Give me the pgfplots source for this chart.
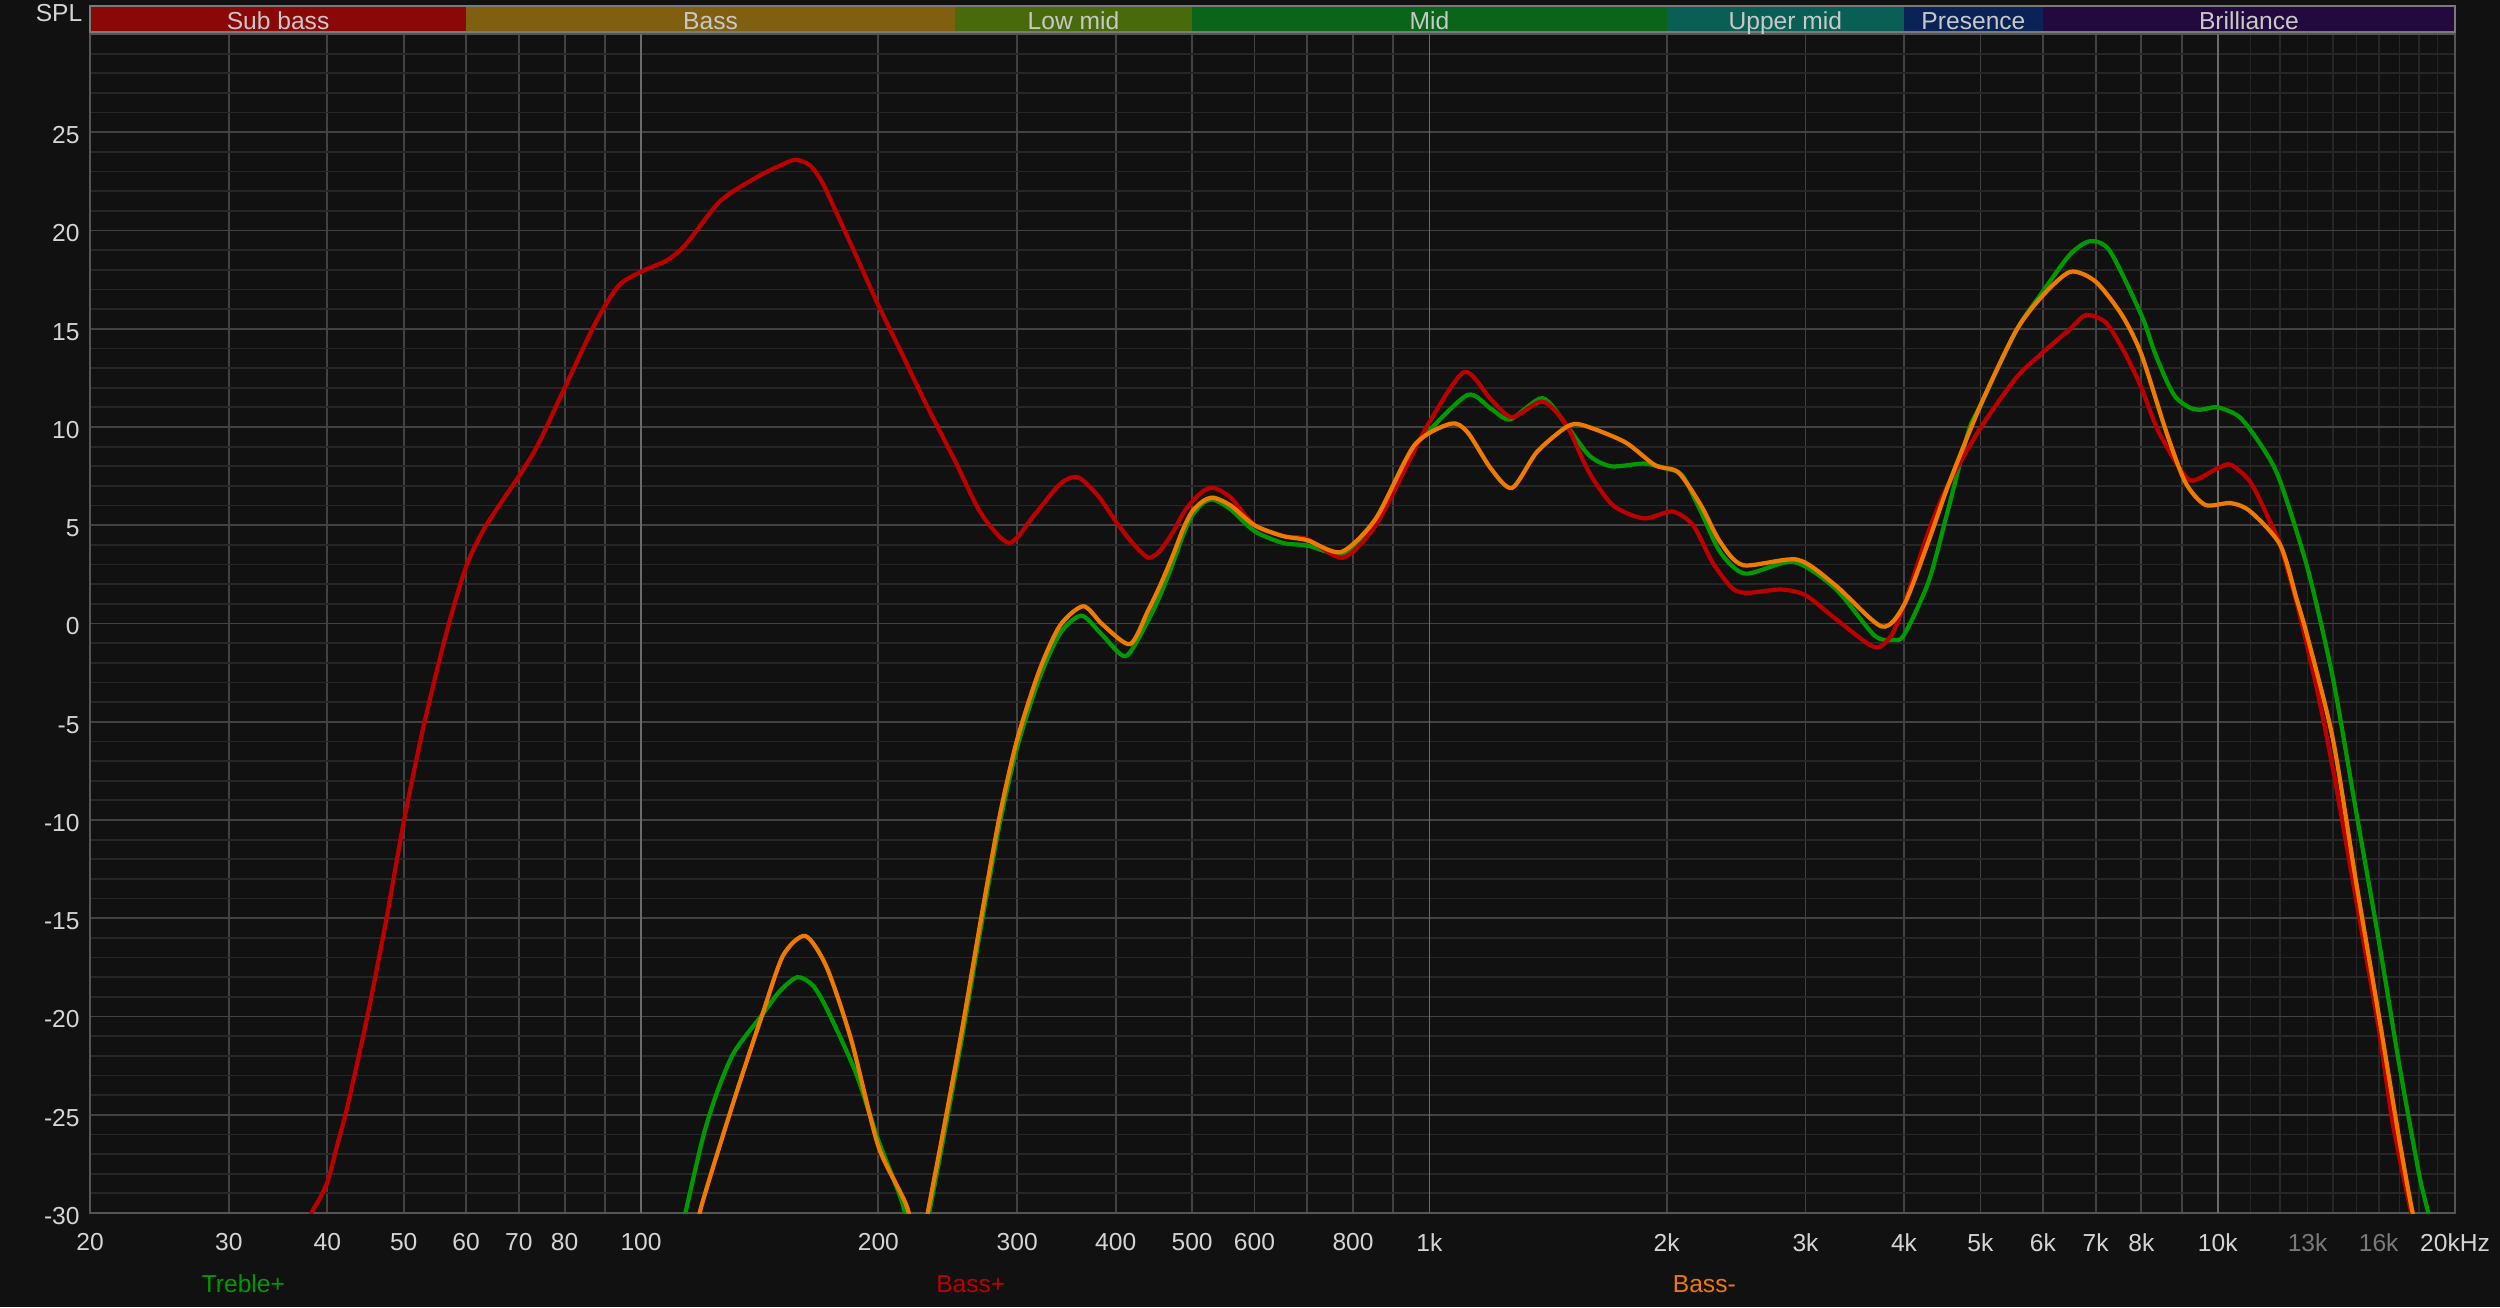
\documentclass[border=0pt]{standalone}
\usepackage{fontspec}
\setmainfont{Liberation Sans}
\usepackage{pgfplots}
\pgfplotsset{compat=1.18}

\definecolor{bg}{HTML}{111111}
\definecolor{gridminor}{HTML}{262626}
\definecolor{gridmid}{HTML}{424242}
\definecolor{gridbright}{HTML}{6A6A6A}
\definecolor{axisgray}{HTML}{555555}
\definecolor{ticktext}{HTML}{D4D4D4}
\definecolor{tickdim}{HTML}{7A7A7A}
\definecolor{bartext}{HTML}{C8C8C8}
\definecolor{barline}{HTML}{7A7A7A}
\definecolor{subbass}{HTML}{8A0808}
\definecolor{bass}{HTML}{806010}
\definecolor{lowmid}{HTML}{486A0A}
\definecolor{mid}{HTML}{0A641A}
\definecolor{uppermid}{HTML}{0A5F55}
\definecolor{presence}{HTML}{0A2255}
\definecolor{brilliance}{HTML}{220A3E}
\definecolor{trebleplus}{HTML}{009A00}
\definecolor{bassplus}{HTML}{BC0000}
\definecolor{bassminus}{HTML}{EE7A00}

\newcommand{\lbl}{\fontsize{7}{8.4}\selectfont}

\begin{document}
\begin{tikzpicture}
\fill[bg] (-0.90,-0.94) rectangle (24.10,12.13);
\begin{axis}[
    at={(0,0)}, anchor=south west,
    scale only axis,
    width=23.65cm, height=11.79cm,
    xmode=log,
    xmin=20, xmax=20000,
    ymin=-30, ymax=30,
    axis background/.style={fill=bg},
    axis line style={draw=axisgray, line width=0.8pt},
    xtick={20,30,40,50,60,70,80,90,200,300,400,500,600,700,800,900,2000,3000,4000,5000,6000,7000,8000,9000,20000},
    xticklabels={20,30,40,50,60,70,80,,200,300,400,500,600,,800,,2k,3k,4k,5k,6k,7k,8k,,20kHz},
    extra x ticks={100,1000,10000},
    extra x tick labels={100,1k,10k},
    extra x tick style={major grid style={draw=gridbright, line width=0.5pt}},
    minor xtick={11000,12000,13000,14000,15000,16000,17000,18000,19000},
    ytick={-30,-25,...,25},
    yticklabels={-30,-25,-20,-15,-10,-5,0,5,10,15,20,25},
    minor ytick={-29,-28,...,29},
    grid=both,
    major grid style={draw=gridmid, line width=0.5pt},
    minor grid style={draw=gridminor, line width=0.5pt},
    major tick length=0pt, minor tick length=0pt,
    tick style={draw=none},
    tick label style={font=\lbl, text=ticktext},
    xticklabel style={yshift=-0.08cm},
    yticklabel style={xshift=0.02cm, yshift=-0.03cm},
    clip mode=individual,
    every axis plot/.append style={line width=1.2pt, smooth, tension=0.45},
]

% Treble+
\addplot[color=trebleplus] coordinates {
(110,-32.5) (113.8,-30) (119.9,-26.1) (125,-23.8) (131.3,-21.8) (142.5,-19.9)
(150,-18.7) (157.9,-18.0) (165,-18.4) (172,-19.6) (187,-22.8) (200,-26.3)
(215.6,-29.8) (223.6,-33.5) (232,-30) (240,-26.9) (255,-21.2) (270,-15.4)
(285,-10.2) (300,-6.3) (320,-2.8) (340,-0.5) (362,0.4) (385,-0.6) (412,-1.66)
(439,0.1) (455,1.4) (472,3.0) (487,4.5) (500,5.5) (517,6.15) (533,6.3)
(560,5.8) (600,4.7) (652,4.1) (700,3.97) (777,3.56)
(855,5.17) (957,8.9) (1000,9.83) (1119,11.64) (1197,10.93) (1266,10.39)
(1391,11.47) (1492,10.1) (1594,8.56) (1701,8.0) (1871,8.14) (2000,7.88)
(2093,7.54) (2211,5.68) (2338,3.64) (2515,2.54) (2897,3.14) (3273,1.78)
(3667,-0.6) (3876,-0.83) (4000,-0.58) (4298,2.14) (4554,5.87) (4828,9.78)
(5000,11.1) (5549,14.9) (6000,16.9) (6502,18.8) (6894,19.46) (7300,18.95)
(8000,15.7) (8300,13.9) (8600,12.4) (8850,11.5) (9200,11.0) (9500,10.88)
(10000,11.0) (10691,10.46)
(11480,8.76) (12000,7.23) (13000,2.8) (14000,-2.8) (15000,-9.7) (16000,-16.1)
(17000,-22.5) (18000,-28) (18500,-30) (19300,-33)
};

% Bass+
\addplot[color=bassplus] coordinates {
(35.5,-33.5) (36.8,-31.6) (38.2,-30) (39.2,-29.2) (40.1,-28.3) (41.2,-26.5)
(42.4,-24.6) (44.9,-20.1)
(47.5,-15.1) (50,-10.1) (53,-5.2) (56.7,-0.4) (60,2.9) (63.4,4.9) (70,7.5)
(74,9.1) (80,12.0) (87.8,15.4) (93.7,17.2) (100,17.9) (108,18.5) (114,19.3)
(126,21.5) (140,22.7) (150,23.3) (157,23.6) (164,23.3) (170,22.4) (177,20.9)
(188,18.6) (200,16.2) (215,13.6) (229,11.3) (250,8.3) (270,5.6) (293,4.1)
(315,5.5) (340,7.1) (358,7.45) (380,6.5) (400,5.2) (420,4.1) (440,3.35)
(455,3.7) (472,4.6) (487,5.6) (500,6.2) (517,6.75) (533,6.9) (560,6.4)
(600,5.0) (652,4.45) (700,4.3) (777,3.35) (855,5.0) (946,8.4)
(1000,10.25) (1107,12.8) (1197,11.4) (1273,10.5) (1391,11.3) (1492,10.1)
(1594,7.7) (1711,6.0) (1871,5.35) (2033,5.7) (2160,5.0) (2287,3.1) (2421,1.8)
(2528,1.56) (2794,1.73) (3000,1.44) (3273,0.25) (3667,-1.2) (3855,-0.6)
(4000,0.95) (4298,4.7) (4554,7.1) (5000,9.95) (5549,12.5) (6000,13.8)
(6502,15.0) (6806,15.7) (7219,15.3) (7639,13.7) (8000,12.0) (8403,9.8)
(9000,7.74) (9304,7.27) (10000,7.9) (10388,8.08) (11000,7.2) (11615,5.3)
(12000,4.0) (12600,1.0) (13320,-3.1) (14000,-7.4) (15000,-14.2) (16000,-20.6)
(16667,-25.4) (17600,-30) (18400,-33)
};

% Bass-
\addplot[color=bassminus] coordinates {
(116,-32) (119,-29.8) (126,-26.5) (133.3,-23.4) (142.5,-19.9) (151.4,-16.9)
(161.6,-15.9) (172,-17.5) (184.8,-21.2) (200,-26.6) (217.9,-29.8) (224.5,-33)
(231,-30) (240,-26.5) (255,-20.8) (270,-15.0) (285,-9.8) (300,-5.9)
(320,-2.4) (340,-0.1) (364,0.88) (385,-0.05) (417,-1.05) (439,0.6) (455,1.9)
(472,3.4) (487,4.8) (500,5.7) (517,6.25) (533,6.4) (560,6.0) (600,5.0)
(652,4.45) (700,4.24) (773,3.64) (855,5.34) (957,9.07)
(1064,10.17) (1117,9.75) (1197,7.88) (1273,6.9) (1369,8.73) (1492,10.0)
(1564,10.1) (1769,9.24) (1934,8.05) (2068,7.7) (2211,6.0) (2338,4.15)
(2500,2.97) (2930,3.25) (3273,1.95) (3747,-0.15) (4000,0.95) (4298,4.2)
(4554,7.06) (5000,11.1) (5549,14.9) (6000,16.7) (6502,17.9) (7000,17.4)
(7559,15.7) (8000,13.7) (8596,9.8) (9093,7.2) (9638,6.04) (10388,6.13)
(11000,5.7) (12000,4.0) (12600,1.2) (13000,-0.7) (14000,-5.9) (15000,-13.3)
(16000,-19.9) (17000,-26.3) (17670,-30) (18400,-33)
};

% frequency band bar
\fill[subbass] (axis cs:20,30.09) rectangle (axis cs:60,31.42);
\fill[bass] (axis cs:60,30.09) rectangle (axis cs:250,31.42);
\fill[lowmid] (axis cs:250,30.09) rectangle (axis cs:500,31.42);
\fill[mid] (axis cs:500,30.09) rectangle (axis cs:2000,31.42);
\fill[uppermid] (axis cs:2000,30.09) rectangle (axis cs:4000,31.42);
\fill[presence] (axis cs:4000,30.09) rectangle (axis cs:6000,31.42);
\fill[brilliance] (axis cs:6000,30.09) rectangle (axis cs:20000,31.42);
\draw[barline, line width=0.5pt] (axis cs:20,30.09) rectangle (axis cs:20000,31.42);
\node[font=\lbl, text=bartext, inner sep=0pt, anchor=base] at (axis cs:34.64,30.25) {Sub bass};
\node[font=\lbl, text=bartext, inner sep=0pt, anchor=base] at (axis cs:122.5,30.25) {Bass};
\node[font=\lbl, text=bartext, inner sep=0pt, anchor=base] at (axis cs:353.6,30.25) {Low mid};
\node[font=\lbl, text=bartext, inner sep=0pt, anchor=base] at (axis cs:1000,30.25) {Mid};
\node[font=\lbl, text=bartext, inner sep=0pt, anchor=base] at (axis cs:2828,30.25) {Upper mid};
\node[font=\lbl, text=bartext, inner sep=0pt, anchor=base] at (axis cs:4899,30.25) {Presence};
\node[font=\lbl, text=bartext, inner sep=0pt, anchor=base] at (axis cs:10954,30.25) {Brilliance};

\node[font=\lbl, text=ticktext, anchor=east, inner sep=0pt] at (axis cs:20,31.08) [xshift=-0.07cm] {SPL};

% dim tick labels
\node[font=\lbl, text=tickdim, anchor=north] at (axis cs:13000,-30) [yshift=-0.08cm] {13k};
\node[font=\lbl, text=tickdim, anchor=north] at (axis cs:16000,-30) [yshift=-0.08cm] {16k};

% legend
\node[font=\lbl, text=trebleplus] at (axis cs:31.3,-33.6) {Treble+};
\node[font=\lbl, text=bassplus] at (axis cs:262,-33.6) {Bass+};
\node[font=\lbl, text=bassminus] at (axis cs:2232,-33.6) {Bass-};
\end{axis}
\pgfresetboundingbox
\path (-0.90,-0.94) rectangle (24.10,12.13);
\end{tikzpicture}
\end{document}
